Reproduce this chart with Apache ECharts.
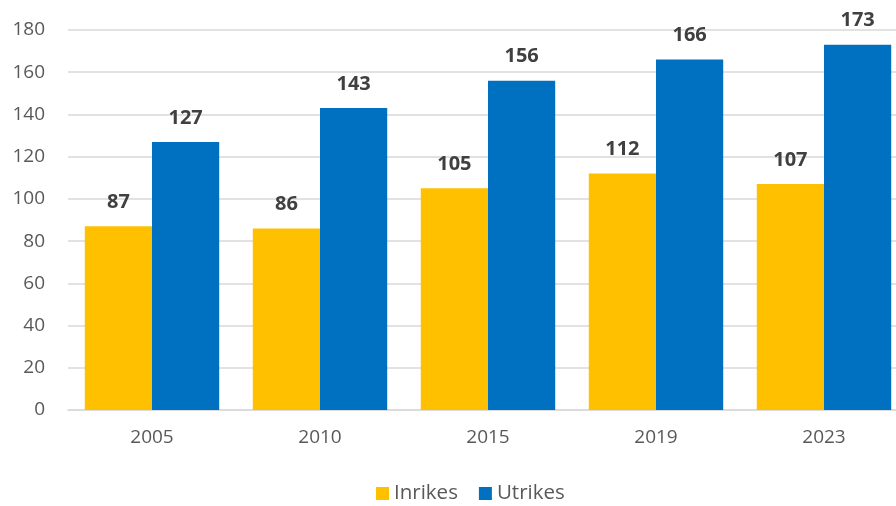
<!DOCTYPE html>
<html>
<head>
<meta charset="utf-8">
<script src="https://cdn.jsdelivr.net/npm/echarts@6/dist/echarts.min.js"></script>
<style>
  html, body { margin: 0; padding: 0; background: #fff; }
  #chart { width: 896px; height: 506px; }
</style>
</head>
<body>
<div id="chart"></div>
<script>
// Passenger counts per year, domestic vs international
const years = ['2005', '2010', '2015', '2019', '2023'];
const inrikes = [87, 86, 105, 112, 107];
const utrikes = [127, 143, 156, 166, 173];

const font = '"Open Sans", "Liberation Sans", sans-serif';

const chart = echarts.init(document.getElementById('chart'), null, { renderer: 'canvas' });

const labelStyle = {
  show: true,
  position: 'top',
  distance: 14,
  fontFamily: font,
  fontSize: 20,
  fontWeight: 'bold',
  color: '#404040'
};

chart.setOption({
  animation: false,
  textStyle: { fontFamily: font },
  // plot area runs a little past the right edge of the canvas
  grid: { left: 68, width: 840, top: 30, bottom: 96, containLabel: false, outerBoundsMode: 'none' },
  legend: {
    bottom: -3,
    left: 371,
    itemWidth: 13,
    itemHeight: 13,
    itemGap: 21,
    icon: 'rect',
    textStyle: { fontFamily: font, fontSize: 20.5, color: '#595959' },
    data: ['Inrikes', 'Utrikes']
  },
  xAxis: {
    type: 'category',
    data: years,
    axisTick: { show: false },
    axisLine: { lineStyle: { color: '#d9d9d9', width: 1.5 } },
    axisLabel: { fontFamily: font, fontSize: 19, color: '#595959', margin: 18 }
  },
  yAxis: {
    type: 'value',
    min: 0,
    max: 180,
    interval: 20,
    axisLine: { show: false },
    axisTick: { show: false },
    splitLine: { lineStyle: { color: '#d9d9d9', width: 1.5 } },
    axisLabel: { fontFamily: font, fontSize: 19, color: '#595959', margin: 23 }
  },
  series: [
    {
      name: 'Inrikes',
      type: 'bar',
      data: inrikes,
      barGap: '0%',
      barCategoryGap: '20%',
      itemStyle: { color: '#FFC000' },
      label: labelStyle
    },
    {
      name: 'Utrikes',
      type: 'bar',
      data: utrikes,
      itemStyle: { color: '#0070C0' },
      label: labelStyle
    }
  ]
});
</script>
</body>
</html>
